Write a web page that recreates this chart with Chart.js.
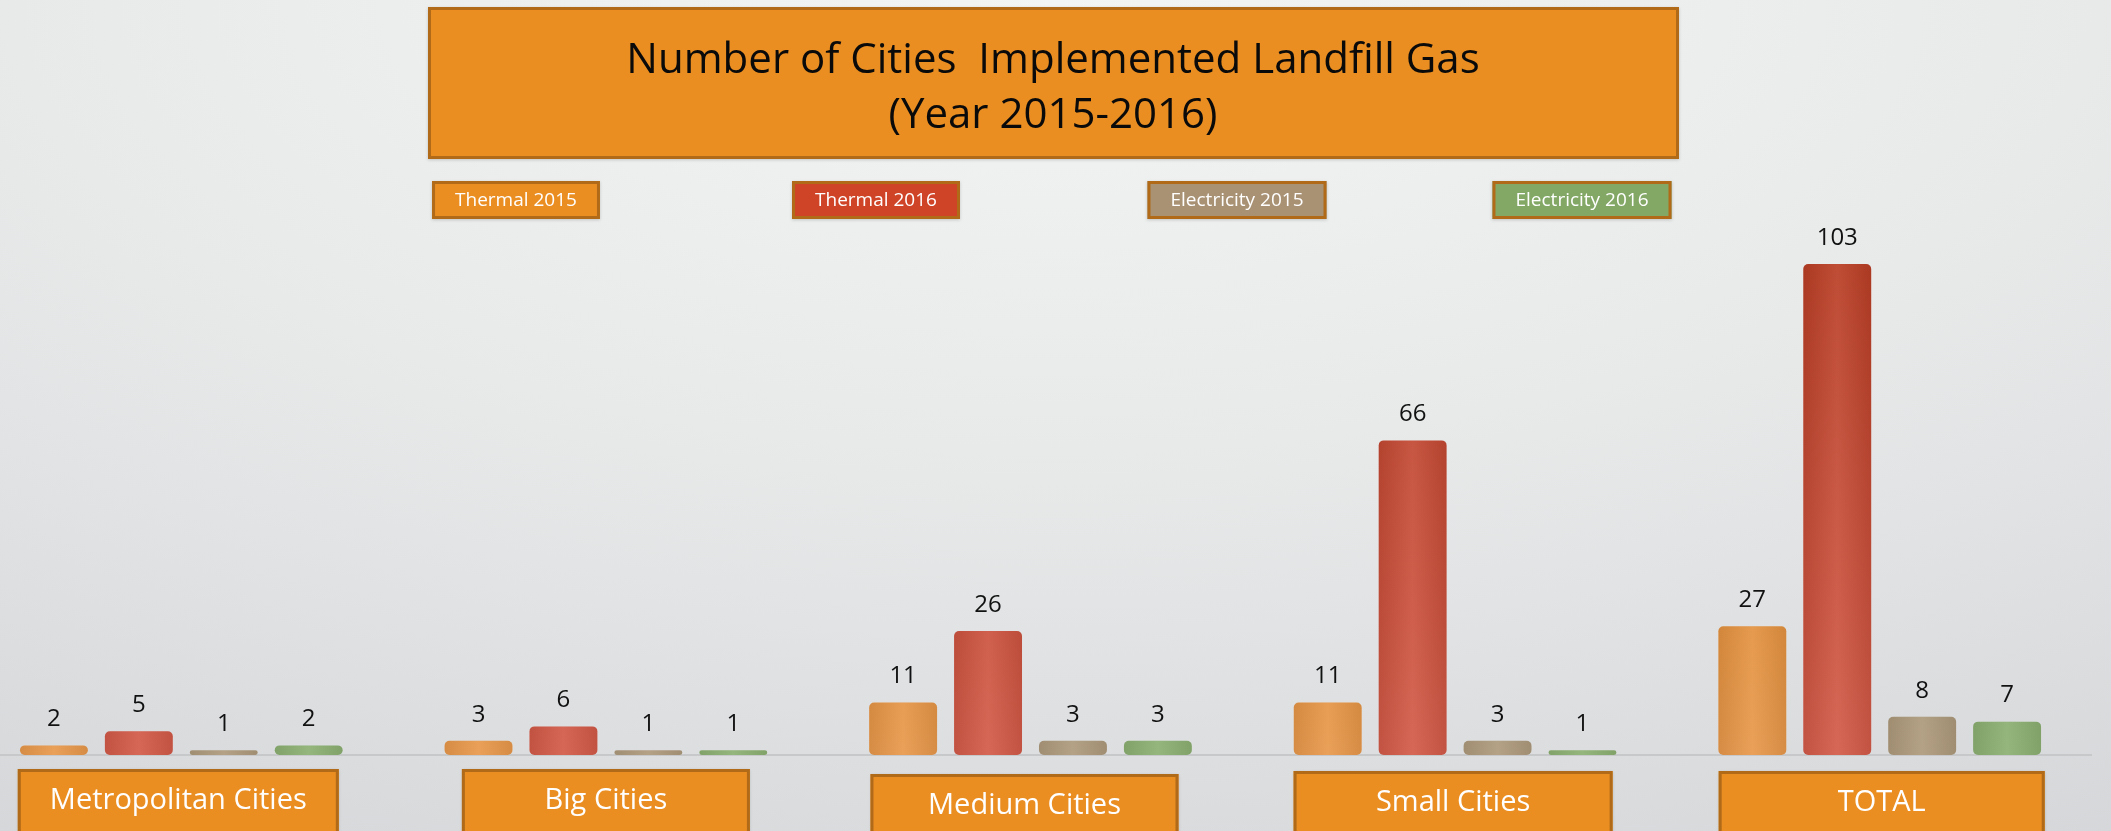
<!DOCTYPE html>
<html>
<head>
<meta charset="utf-8">
<script src="https://cdn.jsdelivr.net/npm/chart.js@4.4.1/dist/chart.umd.min.js"></script>
<style>
  html, body { margin: 0; padding: 0; width: 2111px; height: 831px; overflow: hidden; }
  body { background: radial-gradient(ellipse 110% 120% at 50% 0%, #f3f4f4 0%, #e8eaea 45%, #d3d5d8 100%); }
  #wrap { position: absolute; left: -31px; top: 0; width: 2123px; height: 831px; }
</style>
</head>
<body>
<div id="wrap"><canvas id="chart"></canvas></div>
<script>
const categories = ['Metropolitan Cities', 'Big Cities', 'Medium Cities', 'Small Cities', 'TOTAL'];
const seriesLabels = ['Thermal 2015', 'Thermal 2016', 'Electricity 2015', 'Electricity 2016'];
const thermal2015 = [2, 3, 11, 11, 27];
const thermal2016 = [5, 6, 26, 66, 103];
const electricity2015 = [1, 1, 3, 3, 8];
const electricity2016 = [2, 1, 3, 1, 7];
const titleLines = ['Number of Cities  Implemented Landfill Gas', '(Year 2015-2016)'];

// canvas is shifted left so the first category lines up with the slide
const X_OFF = 31;
const FONT = "'Open Sans', 'Noto Sans', sans-serif";
const BOX_BORDER = '#b16b18';
const SERIES_STYLE = [
  { fill: '#ea8e22', top: '#d27d1c', bottom: '#e8984a' },
  { fill: '#cf4326', top: '#b5391f', bottom: '#d35a48' },
  { fill: '#a99274', top: '#9a886a', bottom: '#ae9a7c' },
  { fill: '#83a866', top: '#739a58', bottom: '#8cb072' }
];
const LEGEND_CENTERS = [516, 876, 1237, 1582];
// category label boxes: width, horizontal nudge, top
const CAT_BOX = [
  { w: 321, dx: -3, top: 769 },
  { w: 288, dx: 0, top: 769 },
  { w: 308, dx: -6, top: 774 },
  { w: 319, dx: -2, top: 771 },
  { w: 326, dx: 2, top: 771 }
];

function barGradient(i) {
  return (ctx) => {
    const area = ctx.chart.chartArea;
    if (!area) return SERIES_STYLE[i].fill;
    const g = ctx.chart.ctx.createLinearGradient(0, area.top, 0, area.bottom);
    g.addColorStop(0, SERIES_STYLE[i].top);
    g.addColorStop(1, SERIES_STYLE[i].bottom);
    return g;
  };
}

function drawBox(ctx, x, y, w, h, fill) {
  ctx.save();
  ctx.shadowColor = 'rgba(0,0,0,0.18)';
  ctx.shadowBlur = 3;
  ctx.shadowOffsetY = 1;
  ctx.fillStyle = fill;
  ctx.fillRect(x, y, w, h);
  ctx.restore();
  ctx.lineWidth = 3;
  ctx.strokeStyle = BOX_BORDER;
  ctx.strokeRect(x + 1.5, y + 1.5, w - 3, h - 3);
}

const barShade = {
  id: 'barShade',
  afterDatasetsDraw(chart) {
    const ctx = chart.ctx;
    chart.data.datasets.forEach((ds, di) => {
      chart.getDatasetMeta(di).data.forEach(el => {
        const { x, y, base, width } = el.getProps(['x', 'y', 'base', 'width'], true);
        const h = base - y;
        if (h <= 0) return;
        const g = ctx.createLinearGradient(x - width / 2, 0, x + width / 2, 0);
        g.addColorStop(0, 'rgba(0,0,0,0.08)');
        g.addColorStop(0.5, 'rgba(255,255,255,0.08)');
        g.addColorStop(1, 'rgba(0,0,0,0.08)');
        ctx.save();
        ctx.beginPath();
        ctx.roundRect(x - width / 2, y, width, h, Math.min(5, h / 2));
        ctx.clip();
        ctx.fillStyle = g;
        ctx.fillRect(x - width / 2, y, width, h);
        ctx.restore();
      });
    });
  }
};

const valueLabels = {
  id: 'valueLabels',
  afterDatasetsDraw(chart) {
    const ctx = chart.ctx;
    ctx.save();
    ctx.font = `24px ${FONT}`;
    ctx.fillStyle = '#111';
    ctx.textAlign = 'center';
    ctx.textBaseline = 'middle';
    chart.data.datasets.forEach((ds, di) => {
      chart.getDatasetMeta(di).data.forEach((el, i) => {
        ctx.fillText(String(ds.data[i]), el.x, el.y - 26);
      });
    });
    ctx.restore();
  }
};

const slideDecor = {
  id: 'slideDecor',
  afterDraw(chart) {
    const ctx = chart.ctx;
    ctx.save();
    // title box
    drawBox(ctx, 428 + X_OFF, 7, 1251, 152, '#ea8e22');
    ctx.fillStyle = '#0a0a0a';
    ctx.textAlign = 'center';
    ctx.textBaseline = 'alphabetic';
    ctx.font = `42px ${FONT}`;
    ctx.fillText(titleLines[0], 1053 + X_OFF, 73);
    ctx.fillText(titleLines[1], 1053 + X_OFF, 128);

    // legend boxes
    ctx.font = `19px ${FONT}`;
    ctx.textBaseline = 'middle';
    chart.data.datasets.forEach((ds, i) => {
      const w = ctx.measureText(ds.label).width + 46;
      const cx = LEGEND_CENTERS[i] + X_OFF;
      drawBox(ctx, cx - w / 2, 181, w, 38, SERIES_STYLE[i].fill);
      ctx.fillStyle = '#fff';
      ctx.fillText(ds.label, cx, 201);
    });

    // category boxes under the axis
    const xs = chart.scales.x;
    ctx.font = `29px ${FONT}`;
    chart.data.labels.forEach((lab, i) => {
      const b = CAT_BOX[i];
      const cx = xs.getPixelForValue(i) + b.dx;
      drawBox(ctx, cx - b.w / 2, b.top, b.w, 70, '#ea8e22');
      ctx.fillStyle = '#fff';
      ctx.fillText(lab, cx, b.top + 32);
    });
    ctx.restore();
  }
};

const seriesData = [thermal2015, thermal2016, electricity2015, electricity2016];

new Chart(document.getElementById('chart'), {
  type: 'bar',
  data: {
    labels: categories,
    datasets: seriesData.map((d, i) => ({
      label: seriesLabels[i],
      data: d,
      backgroundColor: barGradient(i),
      borderWidth: 0,
      borderRadius: 5,
      borderSkipped: false,
      categoryPercentage: 0.8,
      barPercentage: 0.8
    }))
  },
  options: {
    responsive: true,
    maintainAspectRatio: false,
    animation: false,
    layout: { padding: { top: 183, bottom: 76, left: 0, right: 0 } },
    plugins: {
      legend: { display: false },
      title: { display: false },
      tooltip: { enabled: false }
    },
    scales: {
      x: {
        grid: { display: false, drawTicks: false },
        ticks: { display: false },
        border: { display: true, color: '#c6c8ca', width: 2 }
      },
      y: { display: false, min: 0, max: 120 }
    }
  },
  plugins: [barShade, valueLabels, slideDecor]
});
</script>
</body>
</html>
